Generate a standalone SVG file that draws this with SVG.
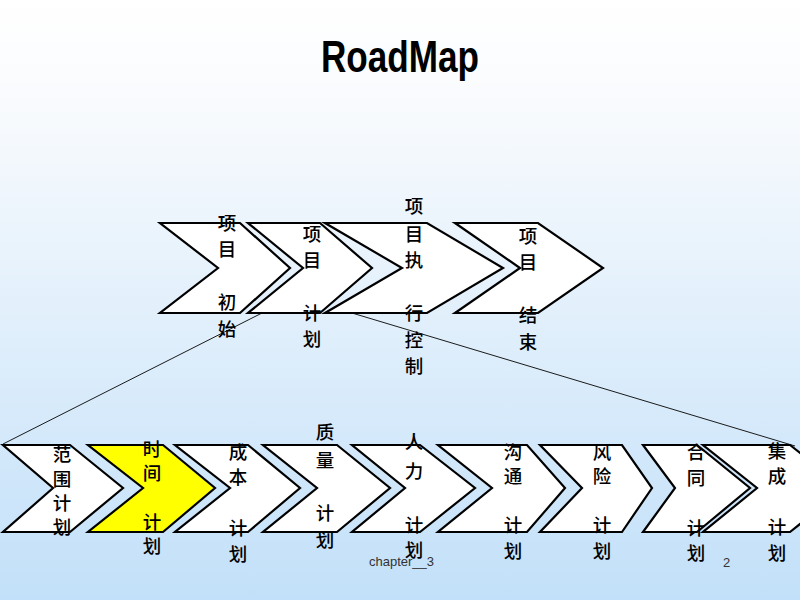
<svg xmlns="http://www.w3.org/2000/svg" width="800" height="600" viewBox="0 0 800 600">
<defs>
<linearGradient id="bg" x1="0" y1="0" x2="0" y2="1">
<stop offset="0" stop-color="#ffffff"/>
<stop offset="0.2" stop-color="#f7fafd"/>
<stop offset="1" stop-color="#c2e0f9"/>
</linearGradient>
<style>
.chev{fill:#ffffff;stroke:#000000;stroke-width:2.2;stroke-linejoin:miter}
.yel{fill:#ffff00}
.lbl{font-family:"Noto Sans CJK SC","Noto Sans CJK TC",sans-serif;font-size:18.5px;font-weight:500;fill:#000000;text-anchor:middle}
.con{stroke:#1a1a1a;stroke-width:1;fill:none}
.foot{font-family:"Liberation Sans",Arial,sans-serif;font-size:13px;fill:#333333}
</style>
</defs>
<rect x="0" y="0" width="800" height="600" fill="url(#bg)"/>
<text x="400" y="72" text-anchor="middle" font-family="Liberation Sans, Arial, sans-serif" font-weight="bold" font-size="44" textLength="158" lengthAdjust="spacingAndGlyphs" fill="#000">RoadMap</text>

<g id="connectors">
<line class="con" x1="262" y1="313" x2="3" y2="444"/>
<line class="con" x1="352" y1="313" x2="795" y2="446"/>
</g>

<g id="top1">
<polygon class="chev" points="160,223 240,223 290,268 240,313 160,313 218,268"/>
<text class="lbl"><tspan x="227" y="230">项</tspan><tspan x="227" y="256">目</tspan><tspan x="227" y="309">初</tspan><tspan x="227" y="336">始</tspan></text>
</g>
<g id="top2">
<polygon class="chev" points="248,223 320,223 372,268 320,313 248,313 303,268"/>
<text class="lbl"><tspan x="312" y="241">项</tspan><tspan x="312" y="267">目</tspan><tspan x="312" y="320">计</tspan><tspan x="312" y="346">划</tspan></text>
</g>
<g id="top3">
<polygon class="chev" points="325,223 427,223 503,268 427,313 325,313 402,268"/>
<text class="lbl"><tspan x="414" y="213">项</tspan><tspan x="414" y="241">目</tspan><tspan x="414" y="267">执</tspan><tspan x="414" y="320">行</tspan><tspan x="414" y="347">控</tspan><tspan x="414" y="373">制</tspan></text>
</g>
<g id="top4">
<polygon class="chev" points="455,223 538,223 603,268 538,313 455,313 520,268"/>
<text class="lbl"><tspan x="528" y="243">项</tspan><tspan x="528" y="269">目</tspan><tspan x="528" y="322">结</tspan><tspan x="528" y="349">束</tspan></text>
</g>

<g id="scope">
<polygon class="chev" points="3,445 70,445 123,488 70,532 3,532 53,488"/>
<text class="lbl"><tspan x="62" y="461">范</tspan><tspan x="62" y="486">围</tspan><tspan x="62" y="510">计</tspan><tspan x="62" y="534">划</tspan></text>
</g>
<g id="time">
<polygon class="chev yel" points="88,445 163,445 215,488 163,532 88,532 143,488"/>
<text class="lbl"><tspan x="152" y="456">时</tspan><tspan x="152" y="480">间</tspan><tspan x="152" y="529">计</tspan><tspan x="152" y="553">划</tspan></text>
</g>
<g id="cost">
<polygon class="chev" points="175,445 248,445 300,488 248,532 175,532 230,488"/>
<text class="lbl"><tspan x="238" y="459">成</tspan><tspan x="238" y="484">本</tspan><tspan x="238" y="535">计</tspan><tspan x="238" y="561">划</tspan></text>
</g>
<g id="quality">
<polygon class="chev" points="263,445 337,445 390,488 337,532 263,532 317,488"/>
<text class="lbl"><tspan x="325" y="439">质</tspan><tspan x="325" y="467">量</tspan><tspan x="325" y="520">计</tspan><tspan x="325" y="547">划</tspan></text>
</g>
<g id="hr">
<polygon class="chev" points="352,445 420,445 475,488 420,532 352,532 405,488"/>
<text class="lbl"><tspan x="414" y="449">人</tspan><tspan x="414" y="478">力</tspan><tspan x="414" y="532">计</tspan><tspan x="414" y="557">划</tspan></text>
</g>
<g id="comm">
<polygon class="chev" points="438,445 527,445 565,488 527,532 438,532 492,488"/>
<text class="lbl"><tspan x="513" y="459">沟</tspan><tspan x="513" y="483">通</tspan><tspan x="513" y="532">计</tspan><tspan x="513" y="558">划</tspan></text>
</g>
<g id="risk">
<polygon class="chev" points="540,445 622,445 652,488 622,532 540,532 582,488"/>
<text class="lbl"><tspan x="602" y="459">风</tspan><tspan x="602" y="483">险</tspan><tspan x="602" y="532">计</tspan><tspan x="602" y="558">划</tspan></text>
</g>
<g id="contract">
<polygon class="chev" points="643,445 697,445 750,488 697,532 643,532 675,488"/>
<text class="lbl"><tspan x="696" y="459">合</tspan><tspan x="696" y="485">同</tspan><tspan x="696" y="535">计</tspan><tspan x="696" y="560">划</tspan></text>
</g>
<g id="integration">
<polygon class="chev" points="703,445 790,445 845,488 790,532 703,532 757,488"/>
<text class="lbl"><tspan x="777" y="458">集</tspan><tspan x="777" y="483">成</tspan><tspan x="777" y="534">计</tspan><tspan x="777" y="560">划</tspan></text>
</g>

<text class="foot" x="369" y="566">chapter__3</text>
<text class="foot" x="723" y="567">2</text>
</svg>
